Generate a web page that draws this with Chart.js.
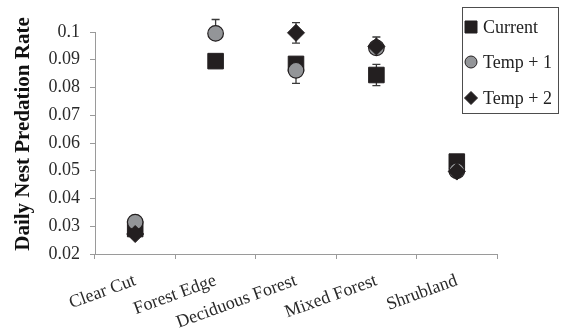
<!DOCTYPE html>
<html>
<head>
<meta charset="utf-8">
<script src="https://cdn.jsdelivr.net/npm/chart.js@4/dist/chart.umd.min.js"></script>
<style>
  html, body { margin: 0; padding: 0; background: #fff; }
  #wrap { width: 566px; height: 335px; }
</style>
</head>
<body>
<div id="wrap"><canvas id="c" width="566" height="335"></canvas></div>
<script>
// Habitat categories
const habitats = ['Clear Cut', 'Forest Edge', 'Deciduous Forest', 'Mixed Forest', 'Shrubland'];

// Daily nest predation rate per scenario
const currentRate = [0.0290, 0.0895, 0.0885, 0.0845, 0.0533];
const temp1Rate   = [0.0315, 0.0995, 0.0862, 0.0943, 0.0500];
const temp2Rate   = [0.0272, null,   0.0997, 0.0948, 0.0497];

// Error bar extents above / below each point
const currentErrUp   = [0.0015, 0.0010, 0.0022, 0.0038, 0.0012];
const currentErrDown = [0.0015, 0.0010, 0.0022, 0.0038, 0.0012];
const temp1ErrUp     = [0.0015, 0.0050, 0.0015, 0.0015, 0.0012];
const temp1ErrDown   = [0.0015, 0.0020, 0.0047, 0.0015, 0.0012];
const temp2ErrUp     = [0.0015, null,   0.0037, 0.0034, 0.0012];
const temp2ErrDown   = [0.0015, null,   0.0037, 0.0020, 0.0012];

// Y axis tick values
const yTicks = [0.02, 0.03, 0.04, 0.05, 0.06, 0.07, 0.08, 0.09, 0.1];
const yTickLabels = ['0.02', '0.03', '0.04', '0.05', '0.06', '0.07', '0.08', '0.09', '0.1'];

const seriesNames = ['Current', 'Temp + 1', 'Temp + 2'];
const errorSets = [
  [currentErrUp, currentErrDown],
  [temp1ErrUp, temp1ErrDown],
  [temp2ErrUp, temp2ErrDown]
];

const SERIF = "'Liberation Serif', 'Times New Roman', serif";
const DARK = '#231f20';
const GREY = '#939598';

// Error bars drawn beneath markers
const errorBars = {
  id: 'errorBars',
  beforeDatasetsDraw(chart) {
    const ctx = chart.ctx;
    const y = chart.scales.y;
    ctx.save();
    ctx.strokeStyle = '#3a3a3a';
    ctx.lineWidth = 1.3;
    chart.data.datasets.forEach((ds, di) => {
      const meta = chart.getDatasetMeta(di);
      const [up, down] = errorSets[di];
      meta.data.forEach((pt, i) => {
        const v = ds.data[i];
        if (v == null || up[i] == null) return;
        const x = pt.x;
        const yt = y.getPixelForValue(v + up[i]);
        const yb = y.getPixelForValue(v - down[i]);
        ctx.beginPath();
        ctx.moveTo(x, yt); ctx.lineTo(x, yb);
        ctx.moveTo(x - 4, yt); ctx.lineTo(x + 4, yt);
        ctx.moveTo(x - 4, yb); ctx.lineTo(x + 4, yb);
        ctx.stroke();
      });
    });
    ctx.restore();
  }
};

// Boxed legend and rotated axis title
const decorations = {
  id: 'decorations',
  afterDraw(chart) {
    const ctx = chart.ctx;
    ctx.save();
    ctx.strokeStyle = '#4d4d4d';
    ctx.lineWidth = 1;
    ctx.strokeRect(462.5, 7.5, 96, 106);
    const rows = [27, 62, 98];
    ctx.font = '18px ' + SERIF;
    ctx.textBaseline = 'middle';
    ctx.textAlign = 'left';
    chart.data.datasets.forEach((ds, i) => {
      const cy = rows[i];
      const cx = 471;
      ctx.fillStyle = ds.backgroundColor;
      ctx.strokeStyle = ds.borderColor;
      ctx.lineWidth = 1;
      ctx.beginPath();
      if (ds.pointStyle === 'rect') {
        ctx.rect(cx - 6, cy - 6, 12, 12);
      } else if (ds.pointStyle === 'circle') {
        ctx.arc(cx, cy, 6, 0, Math.PI * 2);
      } else {
        ctx.moveTo(cx - 6.5, cy); ctx.lineTo(cx, cy - 6.5);
        ctx.lineTo(cx + 6.5, cy); ctx.lineTo(cx, cy + 6.5);
        ctx.closePath();
      }
      ctx.fill();
      ctx.stroke();
      ctx.fillStyle = '#222';
      ctx.fillText(ds.label, 483, cy + 1);
    });
    ctx.translate(24, 134);
    ctx.rotate(-Math.PI / 2);
    ctx.font = 'bold 21px ' + SERIF;
    ctx.fillStyle = '#111';
    ctx.textAlign = 'center';
    ctx.textBaseline = 'middle';
    ctx.fillText('Daily Nest Predation Rate', 0, 0);
    ctx.restore();
  }
};

new Chart(document.getElementById('c'), {
  type: 'line',
  data: {
    labels: habitats,
    datasets: [
      {
        label: seriesNames[0], data: currentRate, order: 3,
        pointStyle: 'rect', pointRadius: 11, pointHoverRadius: 11,
        backgroundColor: DARK, borderColor: DARK, pointBorderWidth: 1,
        showLine: false
      },
      {
        label: seriesNames[1], data: temp1Rate, order: 2,
        pointStyle: 'circle', pointRadius: 7.8, pointHoverRadius: 7.8,
        backgroundColor: GREY, borderColor: DARK, pointBorderWidth: 1.2,
        showLine: false
      },
      {
        label: seriesNames[2], data: temp2Rate, order: 1,
        pointStyle: 'rectRot', pointRadius: 8.5, pointHoverRadius: 8.5,
        backgroundColor: DARK, borderColor: DARK, pointBorderWidth: 1,
        showLine: false
      }
    ]
  },
  options: {
    responsive: false,
    animation: false,
    events: [],
    clip: false,
    layout: { padding: { left: 0, right: 69, top: 32, bottom: 0 } },
    plugins: { legend: { display: false }, tooltip: { enabled: false } },
    scales: {
      x: {
        type: 'category',
        offset: true,
        grid: { offset: true, drawOnChartArea: false, color: '#9a9a9a', tickLength: 5, tickColor: '#9a9a9a' },
        border: { color: '#9a9a9a', width: 1 },
        ticks: {
          color: '#2a2a2a',
          font: { family: SERIF, size: 18 },
          minRotation: 20, maxRotation: 20,
          padding: 11, autoSkip: false
        },
        afterFit(scale) { scale.height = 81; }
      },
      y: {
        min: 0.02, max: 0.1,
        afterBuildTicks(scale) { scale.ticks = yTicks.map(v => ({ value: v })); },
        grid: { drawOnChartArea: false, color: '#9a9a9a', tickLength: 5, tickColor: '#9a9a9a' },
        border: { color: '#9a9a9a', width: 1 },
        ticks: {
          color: '#2a2a2a',
          font: { family: SERIF, size: 18 },
          padding: 10,
          callback(v, i) { return yTickLabels[i]; }
        },
        afterFit(scale) { scale.width = 95; }
      }
    }
  },
  plugins: [errorBars, decorations]
});
</script>
</body>
</html>
